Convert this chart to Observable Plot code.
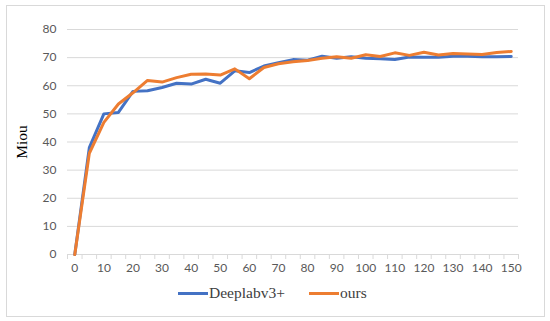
<!DOCTYPE html>
<html>
<head>
<meta charset="utf-8">
<script src="https://cdn.jsdelivr.net/npm/d3@7"></script>
<script src="https://cdn.jsdelivr.net/npm/@observablehq/plot@0.6"></script>
<style>
  body { margin: 0; background: #fff; }
  #wrap { position: relative; width: 550px; height: 321px; overflow: hidden; }
  #border { position: absolute; left: 6px; top: 5px; width: 537px; height: 310px; border: 1px solid #d9d9d9; }
  #chart { position: absolute; left: 0; top: 0; }
  .serif { font-family: "Liberation Serif", "DejaVu Serif", "Times New Roman", Times, serif; }
  #ylab { position: absolute; left: 22px; top: 142px; transform: translate(-50%, -50%) rotate(-90deg);
          font-size: 15.5px; color: #000; white-space: nowrap; }
  .leg { position: absolute; top: 284px; height: 18px; display: flex; align-items: center;
         font-size: 15.5px; color: #404040; white-space: nowrap; }
  .leg .sw { width: 30px; height: 3px; margin-right: 1px; }
</style>
</head>
<body>
<div id="wrap">
  <div id="border"></div>
  <div id="chart"></div>
  <div id="ylab" class="serif">Miou</div>
  <div class="leg serif" style="left:178px"><span class="sw" style="background:#4472C4"></span>Deeplabv3+</div>
  <div class="leg serif" style="left:309px"><span class="sw" style="background:#ED7D31"></span>ours</div>
</div>
<script>
const epochs = [0,5,10,15,20,25,30,35,40,45,50,55,60,65,70,75,80,85,90,95,100,105,110,115,120,125,130,135,140,145,150];
const deeplab = [0,38,50,50.5,58,58.2,59.4,60.9,60.6,62.3,60.9,65.3,64.7,67,68.2,69.3,69.1,70.5,69.8,70.3,69.8,69.6,69.3,70.2,70.1,70.1,70.5,70.5,70.3,70.3,70.4];
const ours = [0,36,47,53.5,57.5,61.9,61.3,62.9,64.1,64.2,63.8,66,62.5,66.5,67.8,68.5,69,69.8,70.3,69.8,71,70.4,71.7,70.8,71.9,70.9,71.5,71.3,71.1,71.8,72.2];
const xTicks = [0,10,20,30,40,50,60,70,80,90,100,110,120,130,140,150];
const yTicks = [0,10,20,30,40,50,60,70,80];
const seriesNames = ["Deeplabv3+", "ours"];
const seriesColors = ["#4472C4", "#ED7D31"];

const rows = [];
epochs.forEach((e, i) => {
  rows.push({epoch: e, miou: deeplab[i], series: seriesNames[0]});
  rows.push({epoch: e, miou: ours[i], series: seriesNames[1]});
});
const boundaries = d3.range(epochs.length + 1).map(i => -2.5 + 5 * i);

const chart = Plot.plot({
  width: 550,
  height: 321,
  marginLeft: 67,
  marginRight: 32,
  marginTop: 29,
  marginBottom: 67,
  style: {fontFamily: "Lato, 'Open Sans', sans-serif", fontSize: "12px", color: "#595959", background: "transparent"},
  x: {domain: [-2.5, 152.5]},
  y: {domain: [0, 80]},
  color: {domain: seriesNames, range: seriesColors},
  marks: [
    Plot.gridY(yTicks.filter(d => d > 0), {stroke: "#d9d9d9", strokeOpacity: 1}),
    Plot.ruleY([0], {stroke: "#d9d9d9", strokeWidth: 1}),
    Plot.axisX(boundaries, {tickSize: 5, tickFormat: () => "", stroke: "#d9d9d9", label: null}),
    Plot.axisX(xTicks, {tickSize: 0, tickPadding: 9, label: null, fill: "#595959"}),
    Plot.axisY(yTicks, {tickSize: 0, tickPadding: 11, label: null, fill: "#595959"}),
    Plot.line(rows.filter(d => d.series === seriesNames[0]), {x: "epoch", y: "miou", stroke: "series", strokeWidth: 3, strokeLinejoin: "round", strokeLinecap: "round"}),
    Plot.line(rows.filter(d => d.series === seriesNames[1]), {x: "epoch", y: "miou", stroke: "series", strokeWidth: 3, strokeLinejoin: "round", strokeLinecap: "round"})
  ]
});
document.getElementById("chart").appendChild(chart);
</script>
</body>
</html>
